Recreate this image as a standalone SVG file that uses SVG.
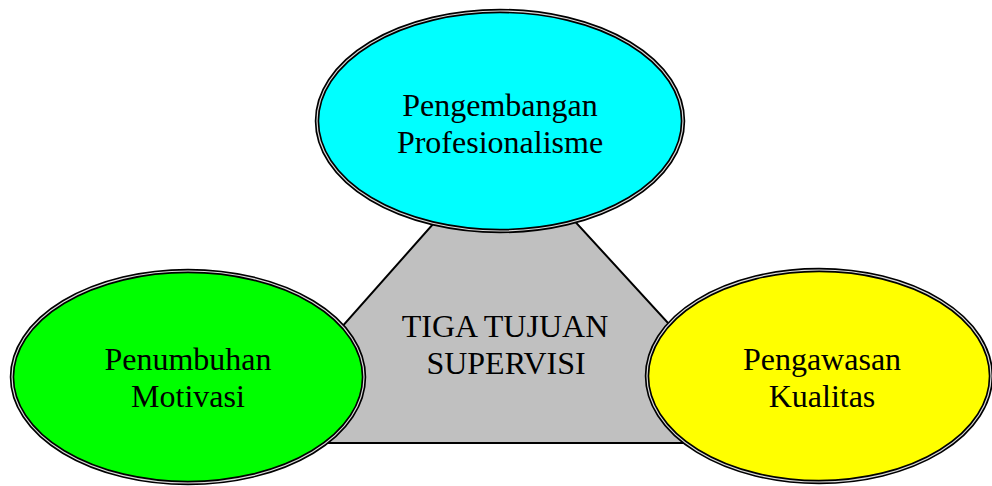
<svg xmlns="http://www.w3.org/2000/svg" width="992" height="486" viewBox="0 0 992 486">
<style>
.lbl{font-family:"Liberation Serif","Times New Roman",serif;font-size:32px;fill:#000;text-anchor:middle}
.outer{stroke:#000;stroke-width:4.5}
.gap{fill:none;stroke:#fff;stroke-width:1.2;stroke-opacity:0.85}
.tri{fill:#c0c0c0;stroke:#000;stroke-width:2;stroke-linejoin:miter}
</style>
<rect width="992" height="486" fill="#fff"/>
<g id="center">
<polygon class="tri" points="504,144 239,443 778,443"/>
<text class="lbl" x="505" y="337">TIGA TUJUAN</text>
<text class="lbl" x="506" y="374">SUPERVISI</text>
</g>
<g id="connectors"></g>
<g id="node-top">
<ellipse class="outer" cx="500" cy="121" rx="183" ry="110" fill="#00ffff"/>
<ellipse class="gap" cx="500" cy="121" rx="183" ry="110"/>
<text class="lbl" x="500" y="116">Pengembangan</text>
<text class="lbl" x="500" y="153">Profesionalisme</text>
</g>
<g id="node-left">
<ellipse class="outer" cx="188" cy="377" rx="176" ry="106" fill="#00ff00"/>
<ellipse class="gap" cx="188" cy="377" rx="176" ry="106"/>
<text class="lbl" x="188" y="370">Penumbuhan</text>
<text class="lbl" x="188" y="407">Motivasi</text>
</g>
<g id="node-right">
<ellipse class="outer" cx="819" cy="376" rx="172" ry="106" fill="#ffff00"/>
<ellipse class="gap" cx="819" cy="376" rx="172" ry="106"/>
<text class="lbl" x="822" y="370">Pengawasan</text>
<text class="lbl" x="822" y="407">Kualitas</text>
</g>
</svg>
